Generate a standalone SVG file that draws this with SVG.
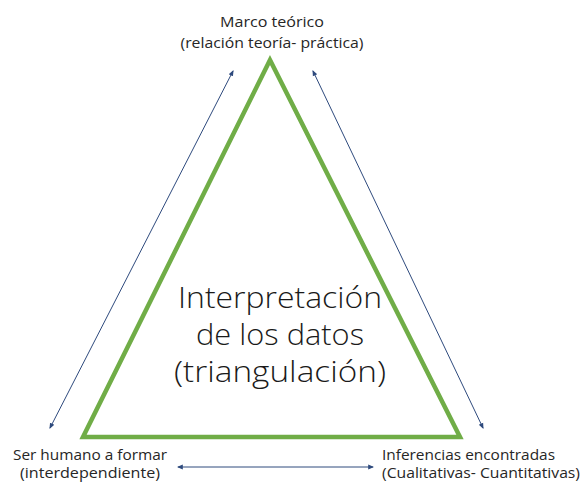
<svg xmlns="http://www.w3.org/2000/svg" width="584" height="485" viewBox="0 0 584 485">
<defs>
<style>
.lbl{font-family:"Open Sans","Liberation Sans",sans-serif;font-size:14.5px;fill:#262626}
.big{font-family:"Open Sans","Liberation Sans",sans-serif;font-size:30px;font-weight:300;fill:#1a1a1a}
.conn{stroke:#2E4A7D;stroke-width:1;fill:none;marker-start:url(#ah);marker-end:url(#ah)}
</style>
<marker id="ah" viewBox="0 0 10 10" refX="8" refY="5" markerWidth="6" markerHeight="6" orient="auto-start-reverse" markerUnits="userSpaceOnUse">
<path d="M0,1 L10,5 L0,9 Z" fill="#2E4A7D"/>
</marker>
</defs>
<rect width="584" height="485" fill="#ffffff"/>
<g id="connectors">
<line class="conn" x1="50" y1="428" x2="233" y2="71"/>
<line class="conn" x1="313" y1="71" x2="483" y2="428"/>
<line class="conn" x1="178" y1="467" x2="373" y2="467"/>
</g>
<g id="triangle">
<polygon points="270,60 83,437 460,437" fill="none" stroke="#70AD47" stroke-width="4.5" stroke-linejoin="miter"/>
<text class="big" text-anchor="middle"><tspan x="280" y="308" textLength="204" lengthAdjust="spacingAndGlyphs">Interpretación</tspan><tspan x="280" y="345" textLength="168" lengthAdjust="spacingAndGlyphs">de los datos</tspan><tspan x="280" y="382" textLength="212" lengthAdjust="spacingAndGlyphs">(triangulación)</tspan></text>
</g>
<g id="marco">
<text class="lbl" text-anchor="middle"><tspan x="272" y="27" textLength="104" lengthAdjust="spacingAndGlyphs">Marco teórico</tspan><tspan x="272" y="48" textLength="183" lengthAdjust="spacingAndGlyphs">(relación teoría- práctica)</tspan></text>
</g>
<g id="ser">
<text class="lbl" text-anchor="middle"><tspan x="90" y="460" textLength="154" lengthAdjust="spacingAndGlyphs">Ser humano a formar</tspan><tspan x="90" y="478" textLength="140" lengthAdjust="spacingAndGlyphs">(interdependiente)</tspan></text>
</g>
<g id="inferencias">
<text class="lbl"><tspan x="382" y="460" textLength="173" lengthAdjust="spacingAndGlyphs">Inferencias encontradas</tspan><tspan x="382" y="478" textLength="198" lengthAdjust="spacingAndGlyphs">(Cualitativas- Cuantitativas)</tspan></text>
</g>
</svg>
